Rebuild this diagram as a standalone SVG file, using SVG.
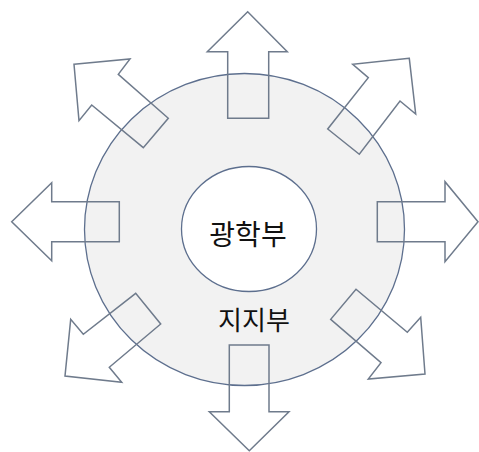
<svg xmlns="http://www.w3.org/2000/svg" width="479" height="452" viewBox="0 0 479 452">
<style>
.outer{fill:#f2f2f2;stroke:#5d6f8e;stroke-width:1.3}
.inner{fill:#ffffff;stroke:#5d6f8e;stroke-width:1.3}
.arrow{fill:none;stroke:#6f7b8c;stroke-width:1.5;stroke-linejoin:miter}
.lbl{font-family:"Noto Sans CJK KR","Noto Sans CJK SC",sans-serif;fill:#111;text-anchor:middle}
</style>
<rect width="479" height="452" fill="#ffffff"/>
<g id="support">
<ellipse class="outer" cx="244.5" cy="229.5" rx="160" ry="156"/>
<text class="lbl" x="254" y="330" font-size="26">지지부</text>
</g>
<g id="optics">
<ellipse class="inner" cx="249" cy="229" rx="67.5" ry="62.5"/>
<text class="lbl" x="248" y="245" font-size="28">광학부</text>
</g>
<g id="arrows">
<polygon id="arrow-n" class="arrow" points="247.7,11.7 207.3,51.7 227.7,51.7 227.7,118.3 268.7,118.3 268.7,51.7 287.3,51.7"/>
<polygon id="arrow-s" class="arrow" points="249.3,450.7 209.3,411.7 229.3,411.7 229.3,345 269,345 269,411.7 289,411.7"/>
<polygon id="arrow-e" class="arrow" points="478,221.7 445,181.7 445,201.7 377.3,201.7 377.3,241.7 445,241.7 445,261.7"/>
<polygon id="arrow-w" class="arrow" points="11.7,221.7 51.7,182.7 51.7,201.7 119.3,201.7 119.3,241.7 51.7,241.7 51.7,260.7"/>
<polygon id="arrow-ne" class="arrow" points="409.3,58.3 352.7,64.3 368.3,77.7 327.7,129 359.3,154.3 400,101 415.7,114"/>
<polygon id="arrow-nw" class="arrow" points="74,64.3 130,59 118.3,74.3 168.3,118.3 143.3,147.7 91.7,105 79,120.7"/>
<polygon id="arrow-sw" class="arrow" points="65,376 70.7,319.3 83.3,334.3 135.7,293.3 160.7,324 109.3,367.3 121.7,382.3"/>
<polygon id="arrow-se" class="arrow" points="425,374 420.7,317.3 407.3,332.3 356,289.3 330.7,319.3 381,362.7 368.3,379"/>
</g>
</svg>
